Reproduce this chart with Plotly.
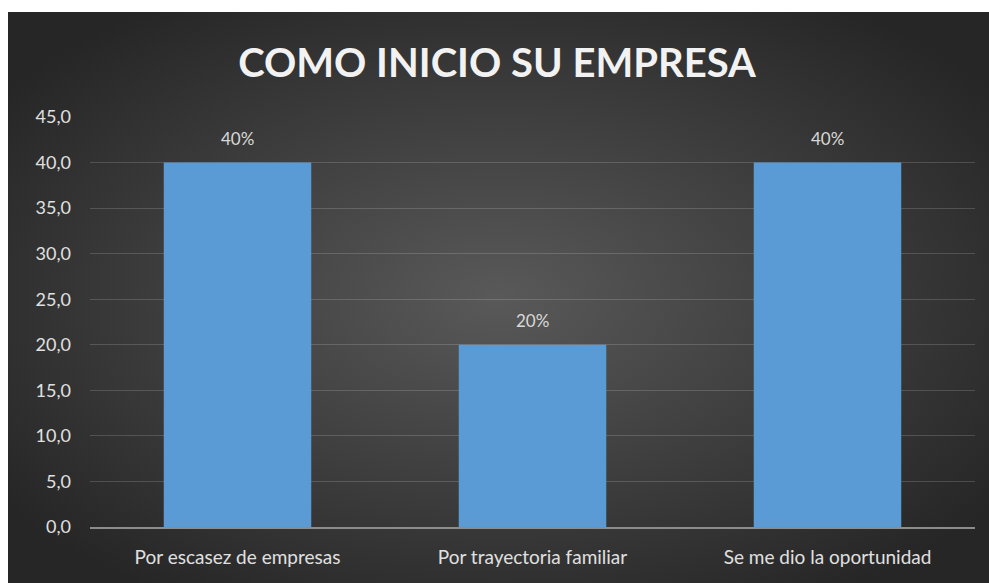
import base64
import plotly.graph_objects as go

categories = ["Por escasez de empresas", "Por trayectoria familiar", "Se me dio la oportunidad"]
values = [40.0, 20.0, 40.0]
labels = ["40%", "20%", "40%"]
title_text = "COMO INICIO SU EMPRESA"

svg = (
    '<svg xmlns="http://www.w3.org/2000/svg" width="981" height="571" viewBox="0 0 981 571" preserveAspectRatio="none">'
    '<defs><radialGradient id="g" cx="0.5" cy="0.5" r="0.62" gradientUnits="objectBoundingBox">'
    '<stop offset="0" stop-color="#595959"/><stop offset="1" stop-color="#262626"/>'
    '</radialGradient></defs><rect x="0" y="0" width="981" height="571" fill="url(#g)"/></svg>'
)
src = "data:image/svg+xml;base64," + base64.b64encode(svg.encode()).decode()

FONT = "Lato, 'Open Sans', sans-serif"

fig = go.Figure()
fig.add_trace(go.Bar(
    x=categories, y=values,
    marker=dict(color="#5b9bd5", line=dict(width=0)),
    width=0.5,
    hoverinfo="skip",
))
for c, v, t in zip(categories, values, labels):
    fig.add_annotation(x=c, y=v, text=t, showarrow=False, yanchor="bottom", yshift=12,
                       font=dict(family=FONT, size=17, color="#d9d9d9"))

fig.update_layout(
    width=989, height=583,
    margin=dict(l=90, r=14, t=117, b=56),
    paper_bgcolor="white",
    plot_bgcolor="rgba(0,0,0,0)",
    separators=",.",
    showlegend=False,
    title=dict(text="<b>" + title_text + "</b>", x=0.5025, xanchor="center", y=0.892, yanchor="middle",
               font=dict(family=FONT, size=40, color="#f2f2f2")),
    images=[dict(source=src, xref="paper", yref="paper", x=-90/885 + 8/885, y=1 + 105/410,
                 sizex=981/885, sizey=571/410, xanchor="left", yanchor="top",
                 sizing="stretch", layer="below")],
    xaxis=dict(showgrid=False, showline=True, linecolor="#8c8c8c", linewidth=2,
               ticks="", ticklabelstandoff=12,
               tickfont=dict(family=FONT, size=19, color="#e0e0e0")),
    yaxis=dict(range=[0, 45], dtick=5, tickformat=".1f", showgrid=True,
               gridcolor="rgba(255,255,255,0.16)", gridwidth=1, zeroline=False,
               showline=False, ticks="", ticklabelstandoff=18,
               tickfont=dict(family=FONT, size=18, color="#e0e0e0")),
)
fig.write_html("out.html")
